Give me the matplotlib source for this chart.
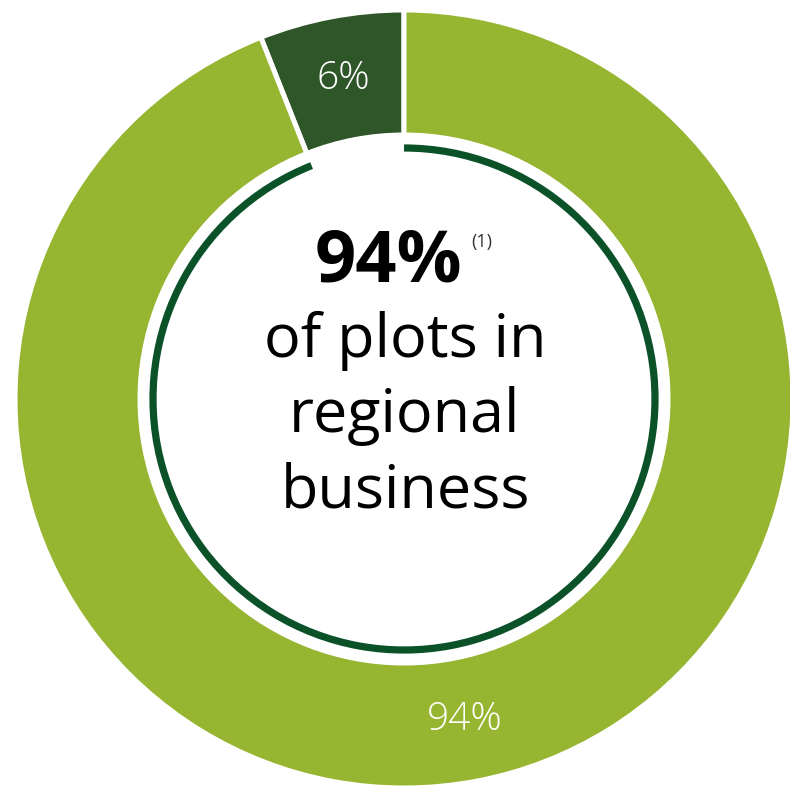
import numpy as np
import matplotlib.pyplot as plt
from matplotlib.patches import Arc

# share of plots
labels = ["other", "regional business"]
shares = [6, 94]
colors = ["#2f5629", "#96b530"]
ring_color = "#0b5229"

headline = "94%"
note = "(1)"
caption = ["of plots in", "regional", "business"]

plt.rcParams['font.family'] = ['Open Sans', 'DejaVu Sans']

fig = plt.figure(figsize=(7.9, 7.87), dpi=100)
ax = fig.add_axes([0, 0, 1, 1])

cx, cy = 404, 388
r_out, r_in = 389, 264

wedges, texts, autotexts = ax.pie(
    shares, colors=colors, startangle=90, counterclock=True,
    center=(cx, cy), radius=r_out, frame=True,
    wedgeprops=dict(width=r_out - r_in, edgecolor='white', linewidth=3.6),
    autopct='%.0f%%', pctdistance=(r_out + r_in) / 2 / r_out,
    textprops=dict(color='white', fontsize=28, fontweight='light'))
ax.set_xlim(0, 790)
ax.set_ylim(0, 787)
ax.set_aspect('equal')
ax.axis('off')

# thin ring following the main share
gap = 360 * shares[0] / sum(shares)
ring = Arc((cx, cy), 2 * 251, 2 * 251, theta1=90 + gap, theta2=450,
           color=ring_color, linewidth=5.2, capstyle='butt')
ax.add_patch(ring)

ax.text(388, 505, headline, ha='center', va='baseline',
        fontsize=52, fontweight='bold', color='black')
ax.text(471, 545, note, ha='left', va='center', fontsize=13, color='#333333')
for i, line in enumerate(caption):
    ax.text(405, 430 - i * 75, line, ha='center', va='baseline',
            fontsize=44, color='black')

fig.savefig('out.png', dpi=100)
